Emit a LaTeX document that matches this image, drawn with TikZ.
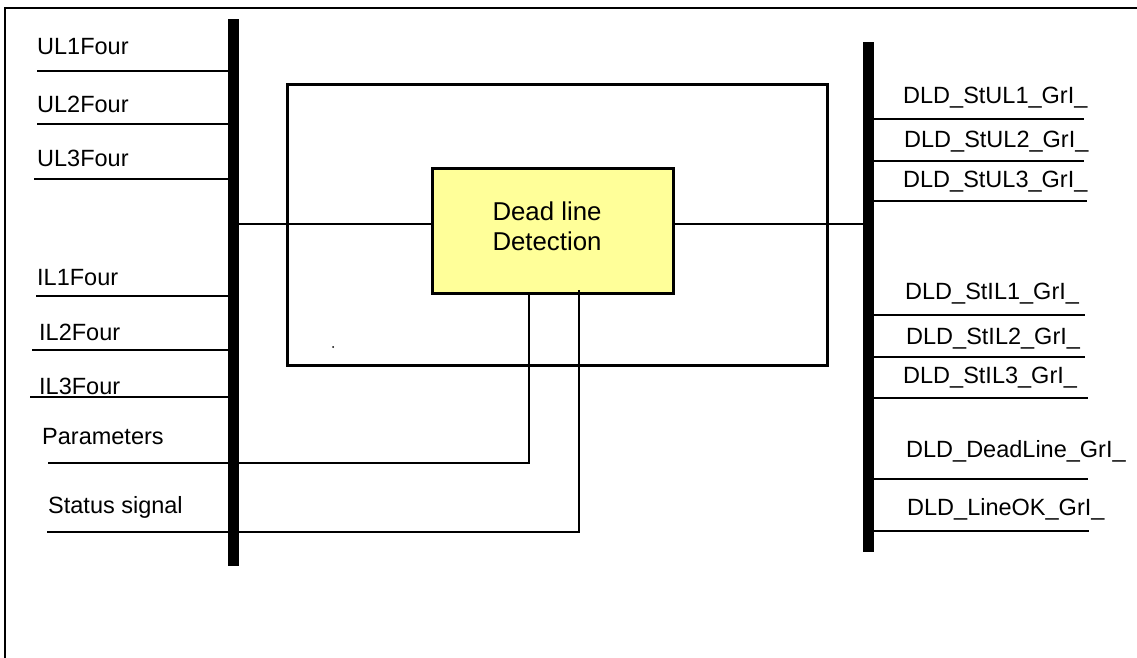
\documentclass[tikz,border=0pt]{standalone}
\usepackage{fontspec}
\setmainfont{Liberation Sans}
\definecolor{dldyellow}{HTML}{FFFF99}
\begin{document}
\begin{tikzpicture}[x=1pt,y=-1pt,
  wire/.style={line width=2pt},
  frameline/.style={line width=1.6pt},
  busbar/.style={fill=black, draw=none, inner sep=0pt, minimum width=11pt, anchor=north west},
  lbl/.style={anchor=base west, inner sep=0pt, font=\fontsize{23.5}{28}\selectfont},
  boxtxt/.style={anchor=base, inner sep=0pt, font=\fontsize{25.8}{30}\selectfont},
  outerbox/.style={draw, line width=3pt, inner sep=0pt, anchor=north west},
  fblock/.style={draw, line width=3pt, fill=dldyellow, inner sep=0pt, anchor=north west}]
\useasboundingbox (0,0) rectangle (1137,658);
% page frame (only top and left edges visible)
\coordinate (fbl) at (5,658);
\coordinate (ftl) at (5,8);
\coordinate (ftr) at (1137,8);
\draw[frameline] (fbl) -- (ftl) -- (ftr);

% boxes
\node[outerbox, minimum width=540pt, minimum height=281pt] (outer) at (286,83) {};
\node[fblock, minimum width=241pt, minimum height=125pt] (dld) at (431,167) {};
\node[boxtxt] (dldt1) at (547,220) {Dead line};
\node[boxtxt] (dldt2) at (547,250) {Detection};
\fill (333,347) circle (1pt);

% bus bar positions (drawn later)
\path (228,19) node[busbar, minimum height=547pt] (lbus) {};
\path (863,42) node[busbar, minimum height=510pt] (rbus) {};

% left inputs
\node[lbl] (ul1) at (37,55) {UL1Four};
\node[lbl] (ul2) at (37,113) {UL2Four};
\node[lbl] (ul3) at (37,166) {UL3Four};
\node[lbl] (il1) at (37,285) {IL1Four};
\node[lbl] (il2) at (39,340) {IL2Four};
\node[lbl] (il3) at (39,394) {IL3Four};
\node[lbl] (par) at (42,444) {Parameters};
\node[lbl] (sts) at (48,513) {Status signal};

\coordinate (ul1s) at (37,71);
\coordinate (ul2s) at (37,124);
\coordinate (ul3s) at (34,179);
\coordinate (il1s) at (36,296);
\coordinate (il2s) at (32,350);
\coordinate (il3s) at (30,397);
\coordinate (pars) at (48,463);
\coordinate (stss) at (47,532);
\foreach \c in {ul1s,ul2s,ul3s,il1s,il2s,il3s}
  \draw[wire] (\c) -- (\c -| lbus.east);

\coordinate (parv) at (529,292);
\coordinate (stsv) at (579,290);
\draw[wire] (pars) -| (parv);
\draw[wire] (stss) -| (stsv);

% middle connection through the block
\coordinate (mid) at (0,224);
\draw[wire] (lbus.east |- mid) -- (dld.west |- mid);
\draw[wire] (dld.east |- mid) -- (rbus.west |- mid);

% right outputs
\node[lbl] (o1) at (903,103) {DLD\_StUL1\_GrI\_};
\node[lbl] (o2) at (904,147) {DLD\_StUL2\_GrI\_};
\node[lbl] (o3) at (903,187) {DLD\_StUL3\_GrI\_};
\node[lbl] (o4) at (905,299) {DLD\_StIL1\_GrI\_};
\node[lbl] (o5) at (906,344) {DLD\_StIL2\_GrI\_};
\node[lbl] (o6) at (903,383) {DLD\_StIL3\_GrI\_};
\node[lbl] (o7) at (906,457) {DLD\_DeadLine\_GrI\_};
\node[lbl] (o8) at (907,515) {DLD\_LineOK\_GrI\_};

\coordinate (o1e) at (1084,119);
\coordinate (o2e) at (1084,161);
\coordinate (o3e) at (1087,201);
\coordinate (o4e) at (1085,315);
\coordinate (o5e) at (1085,357);
\coordinate (o6e) at (1088,398);
\coordinate (o7e) at (1088,479);
\coordinate (o8e) at (1089,531);
\foreach \c in {o1e,o2e,o3e,o4e,o5e,o6e,o7e,o8e}
  \draw[wire] (rbus.east |- \c) -- (\c);

% bus bars on top
\fill (lbus.north west) rectangle (lbus.south east);
\fill (rbus.north west) rectangle (rbus.south east);
\end{tikzpicture}
\end{document}
